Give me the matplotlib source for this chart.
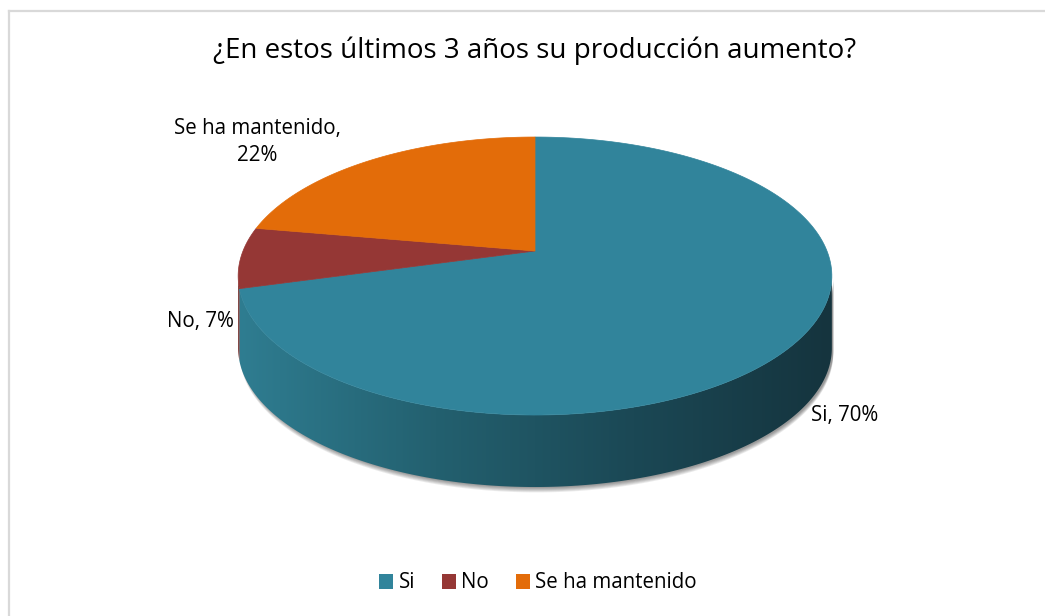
import numpy as np
import matplotlib
matplotlib.use("Agg")
import matplotlib.pyplot as plt
from matplotlib.patches import Polygon, Patch
from matplotlib.colors import LinearSegmentedColormap

# data
categories = ["Si", "No", "Se ha mantenido"]
values = [70, 7, 22]
labels = ["Si, 70%", "No, 7%", "Se ha mantenido,\n22%"]
top_colors = ["#31849B", "#953735", "#E36C09"]
title = "¿En estos últimos 3 años su producción aumento?"

plt.rcParams['font.family'] = ['Open Sans', 'DejaVu Sans']

# pie geometry in pixel space (perspective projection of a disc)
CX, VY = 535, 251
A, B, C = 292, 134.5, 0.18
DEPTH = 72


def proj(theta, drop=0.0):
    t = np.radians(theta)
    u, v = np.cos(t), np.sin(t)
    w = 1 + C * v
    return CX + A * u / w, VY - B * v / w + drop


def rim(t1, t2, drop=0.0, n=200):
    th = np.linspace(t1, t2, n)
    x, y = proj(th, drop)
    return np.column_stack([x, y])


def side_poly(t1, t2):
    top = rim(t1, t2)
    bot = rim(t1, t2, DEPTH)[::-1]
    return np.vstack([top, bot])


fig = plt.figure(figsize=(10.45, 6.16), dpi=100)
ax = fig.add_axes([0, 0, 1, 1])
ax.set_xlim(0, 1045)
ax.set_ylim(616, 0)
ax.axis('off')

# chart border (only top/left visible in the crop)
ax.plot([8.5, 8.5], [616, 10.5], color="#D9D9D9", lw=1.6)
ax.plot([8.5, 1045], [10.5, 10.5], color="#D9D9D9", lw=1.6)

# slice angles: start at 12 o'clock, clockwise
fr = np.array(values) / np.sum(values)
starts = 90 - 360 * np.concatenate([[0], np.cumsum(fr)[:-1]])
ends = starts - 360 * fr

# visible front wall lies between the two silhouette points
sil = np.degrees(np.arcsin(C))
f_lo, f_hi = 180 + sil, 360 - sil

# soft shadow under the front wall
for i in range(1, 7):
    sp = side_poly(f_lo, f_hi) + np.array([1.5, i * 0.9])
    ax.add_patch(Polygon(sp, closed=True, fc="#000000", ec="none", alpha=0.08))

# front walls
side_cmap = LinearSegmentedColormap.from_list(
    "side", ["#2F7D91", "#23606F", "#1B4855", "#15343E"])
grad = np.linspace(0, 1, 256).reshape(1, -1)
for i in range(len(values)):
    lo, hi = ends[i], starts[i]
    for shift in (0, 360):
        a1, a2 = max(lo + shift, f_lo), min(hi + shift, f_hi)
        if a2 <= a1:
            continue
        poly = Polygon(side_poly(a1, a2), closed=True, fc="none", ec="none")
        ax.add_patch(poly)
        if i == 0:
            im = ax.imshow(grad, cmap=side_cmap, aspect='auto',
                           extent=[238, 832, 500, 250], zorder=2)
            im.set_clip_path(poly)
        else:
            poly.set_facecolor("#6E2826")
            poly.set_zorder(2)

# top faces
for i in range(len(values)):
    pts = np.vstack([[CX, VY], rim(starts[i], ends[i])])
    ax.add_patch(Polygon(pts, closed=True, fc=top_colors[i], ec=top_colors[i],
                         lw=0.5, zorder=3))

# title and data labels
ax.text(535, 51, title, ha='center', va='center', fontsize=20, color="#000000")
ax.text(845, 416, labels[0], ha='center', va='center', fontsize=14.8)
ax.text(234, 321, labels[1], ha='right', va='center', fontsize=14.8)
ax.text(257, 142, labels[2], ha='center', va='center', fontsize=14.8,
        linespacing=1.35)

handles = [Patch(facecolor=c, edgecolor='none') for c in top_colors]
ax.legend(handles, categories, loc='center', ncol=3, frameon=False,
          bbox_to_anchor=(538, 583), bbox_transform=ax.transData,
          fontsize=14.8, handlelength=0.7, handleheight=0.7,
          handletextpad=0.25, columnspacing=1.3)

fig.savefig("out.png", dpi=100)
